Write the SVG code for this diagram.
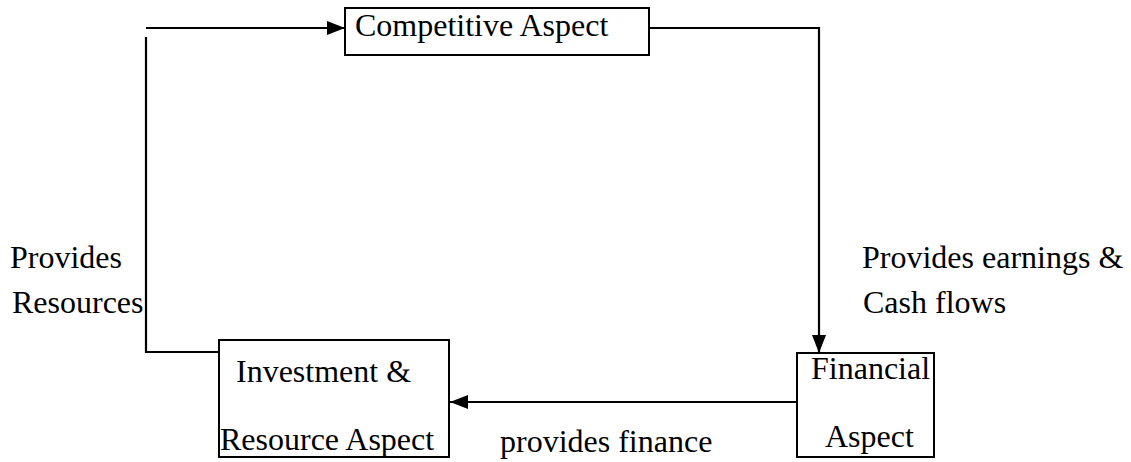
<svg xmlns="http://www.w3.org/2000/svg" width="1131" height="462" viewBox="0 0 1131 462" font-family="Liberation Serif, Tinos, Times New Roman, DejaVu Serif, serif" font-size="32">
<style>
text{font-family:'Liberation Serif',Tinos,'Times New Roman','DejaVu Serif',serif;font-size:32px;fill:#000}
.box{fill:#fff;stroke:#000;stroke-width:2}
.ln{fill:none;stroke:#000;stroke-width:2.2}
</style>
<defs>
<marker id="ah" markerWidth="18" markerHeight="14" refX="18" refY="7" orient="auto" markerUnits="userSpaceOnUse">
<path d="M0,0 L18,7 L0,14 Z" fill="#000"/>
</marker>
</defs>
<g id="connectors">
<path class="ln" d="M146,28 L345,28" marker-end="url(#ah)"/>
<path class="ln" d="M146,37 L146,352 L219,352"/>
<path class="ln" d="M649,28 L819,28 L819,353" marker-end="url(#ah)"/>
<path class="ln" d="M797,402 L450,402" marker-end="url(#ah)"/>
</g>
<g id="competitive">
<rect class="box" x="345" y="8" width="304" height="47"/>
<text x="355" y="36">Competitive Aspect</text>
</g>
<g id="investment">
<rect class="box" x="219" y="340" width="230" height="117"/>
<text x="236" y="382">Investment &amp;</text>
<text x="220" y="450">Resource Aspect</text>
</g>
<g id="financial">
<rect class="box" x="797" y="353" width="137" height="104"/>
<text x="811" y="379">Financial</text>
<text x="825" y="447">Aspect</text>
</g>
<g id="labels">
<text x="10" y="268">Provides</text>
<text x="12" y="313">Resources</text>
<text x="862" y="268">Provides earnings &amp;</text>
<text x="863" y="313">Cash flows</text>
<text x="500" y="452">provides finance</text>
</g>
</svg>
